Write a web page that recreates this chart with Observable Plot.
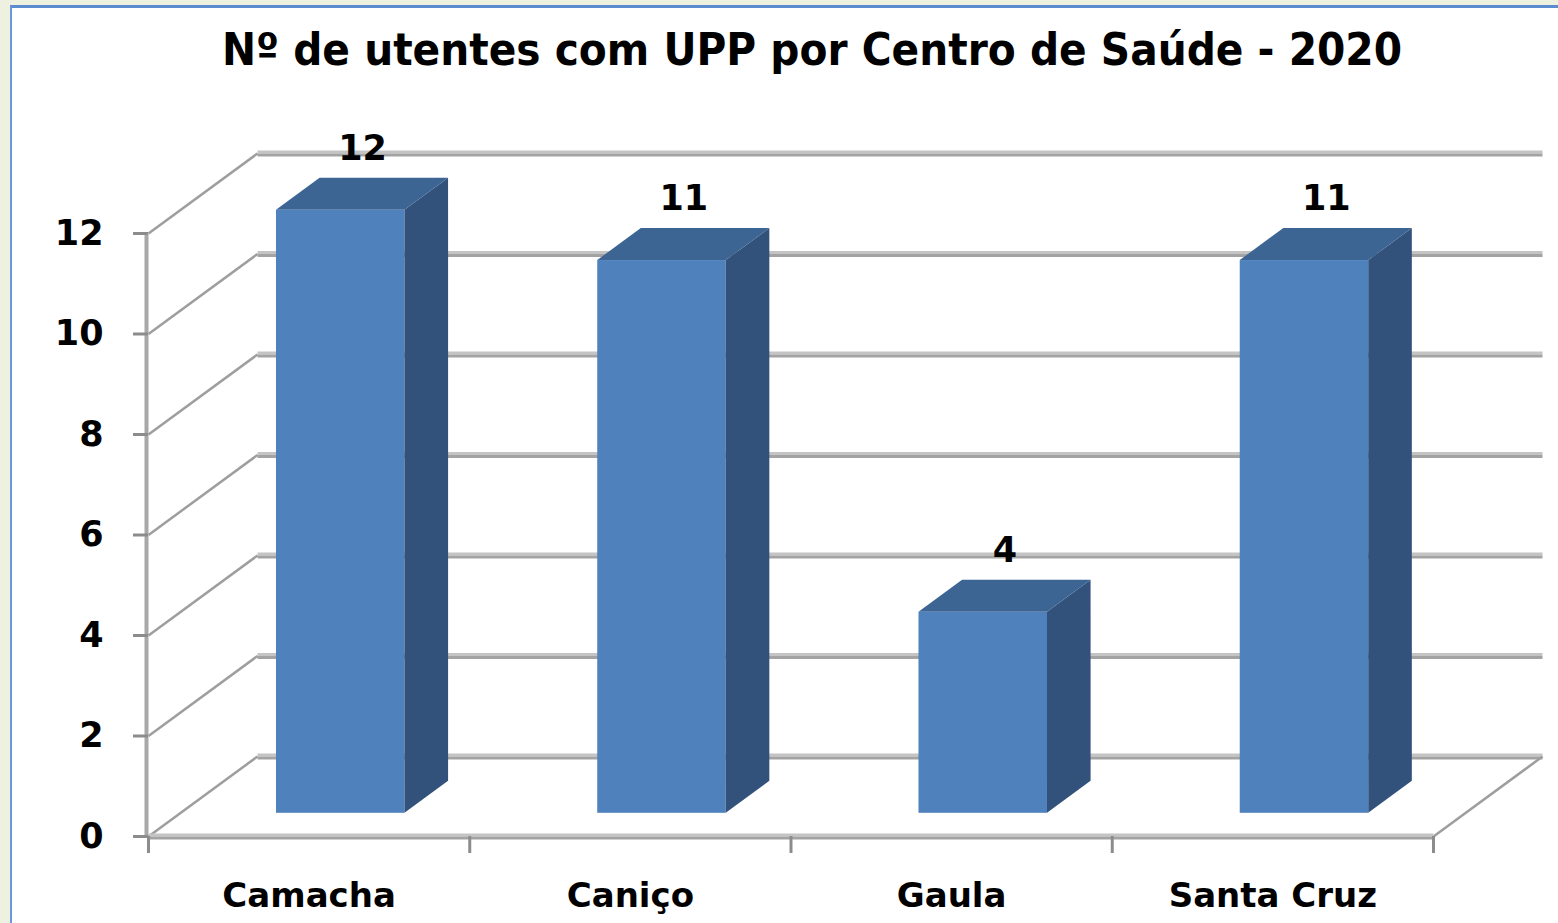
<!DOCTYPE html>
<html>
<head>
<meta charset="utf-8">
<script src="https://cdn.jsdelivr.net/npm/d3@7"></script>
<script src="https://cdn.jsdelivr.net/npm/@observablehq/plot@0.6"></script>
<style>
  html, body { margin: 0; padding: 0; width: 1558px; height: 923px; overflow: hidden; background: #EEF1DF; }
  #frame { position: absolute; left: 10px; top: 5px; width: 1600px; height: 1000px; background: #fff;
           border-left: 2px solid #6B98D6; border-top: 3px solid #5D8BD0; }
  #chart { position: absolute; left: 0; top: 0; }
  #title { position: absolute; top: 23px; left: 0; white-space: nowrap;
           font-family: "DejaVu Sans", Verdana, sans-serif; font-weight: bold; font-size: 45px; color: #000;
           transform-origin: 0 0; }
</style>
</head>
<body>
<div id="frame"></div>
<div id="chart"></div>
<div id="title"><span id="titleText">Nº de utentes com UPP por Centro de Saúde - 2020</span></div>
<script>
// ---- data ----
const categories = ["Camacha", "Caniço", "Gaula", "Santa Cruz"];
const values = [12, 11, 4, 11];
const yTicks = [0, 2, 4, 6, 8, 10, 12];
const categoryBounds = [0, 1, 2, 3, 4];

// ---- 3D geometry (in data units) ----
const pxX = (1433 - 148) / 4;       // px per category
const pxY = (836 - 233) / 12;       // px per value unit
const DX = 109 / pxX;               // full depth shift, x
const DY = 80 / pxY;                // full depth shift, y
const f1 = 0.29, f2 = 0.69, fm = (f1 + f2) / 2;
const barW = 0.4;

const bars = categories.map((c, i) => ({cat: c, i, v: values[i],
  xl: i + 0.5 - barW / 2, xr: i + 0.5 + barW / 2}));

// top faces as areaX rows
const topRows = bars.flatMap(b => [
  {id: b.cat, y: b.v + f1 * DY, x1: b.xl + f1 * DX, x2: b.xr + f1 * DX},
  {id: b.cat, y: b.v + f2 * DY, x1: b.xl + f2 * DX, x2: b.xr + f2 * DX}
]);
// side faces as areaY rows
const sideRows = bars.flatMap(b => [
  {id: b.cat, x: b.xr + f1 * DX, y1: f1 * DY, y2: b.v + f1 * DY},
  {id: b.cat, x: b.xr + f2 * DX, y1: f2 * DY, y2: b.v + f2 * DY}
]);

const font = '"DejaVu Sans", Verdana, sans-serif';
const gridLight = "#C4C4C4", gridDark = "#A3A3A3";

const chart = Plot.plot({
  width: 1558,
  height: 923,
  marginLeft: 148,
  marginRight: 125,
  marginBottom: 87,
  marginTop: 836 - 14 * pxY,
  x: {domain: [0, 4], axis: null},
  y: {domain: [0, 14], axis: null},
  style: {background: "transparent", overflow: "visible", fontFamily: font, color: "#000"},
  marks: [
    // back wall gridlines (two-tone)
    Plot.link(yTicks, {x1: DX, x2: 4 + DX, y1: d => d + DY, y2: d => d + DY, stroke: gridLight, strokeWidth: 3, dy: -1.5}),
    Plot.link(yTicks, {x1: DX, x2: 4 + DX, y1: d => d + DY, y2: d => d + DY, stroke: gridDark, strokeWidth: 3, dy: 1.5}),
    // left wall diagonals
    Plot.link(yTicks, {x1: 0, x2: DX, y1: d => d, y2: d => d + DY, stroke: "#9E9E9E", strokeWidth: 2.5}),
    // floor right diagonal
    Plot.link([0], {x1: 4, x2: 4 + DX, y1: 0, y2: DY, stroke: "#9E9E9E", strokeWidth: 2.5}),
    // floor front edge
    Plot.link([0], {x1: 0, x2: 4, y1: 0, y2: 0, stroke: gridLight, strokeWidth: 3, dy: -1.5}),
    Plot.link([0], {x1: 0, x2: 4, y1: 0, y2: 0, stroke: gridDark, strokeWidth: 3, dy: 1.5}),
    // front vertical axis line
    Plot.link([0], {x1: 0, x2: 0, y1: 0, y2: 12, stroke: "#A8A8A8", strokeWidth: 4, dx: -2}),
    // bars: front faces
    Plot.rect(bars, {x1: d => d.xl + f1 * DX, x2: d => d.xr + f1 * DX, y1: f1 * DY, y2: d => d.v + f1 * DY, fill: "#4F81BD"}),
    // side faces
    Plot.areaY(sideRows, {x: "x", y1: "y1", y2: "y2", z: "id", fill: "#32527B", curve: "linear"}),
    // top faces
    Plot.areaX(topRows, {y: "y", x1: "x1", x2: "x2", z: "id", fill: "#3D6594", curve: "linear"}),
    // value labels
    Plot.text(bars, {x: d => d.i + 0.5 + fm * DX, y: d => d.v + fm * DY, text: d => String(d.v), dy: -46,
      fontSize: 35, fontWeight: "bold", fill: "#000"}),
    // y axis
    Plot.axisY(yTicks, {tickSize: 15, tickPadding: 30, stroke: "#8C8C8C", strokeWidth: 3, fill: "#000",
      fontSize: 35, fontWeight: "bold", tickFormat: d => String(d)}),
    // x ticks
    Plot.axisX(categoryBounds, {tickSize: 17, tickFormat: () => "", stroke: "#8C8C8C", strokeWidth: 3}),
    // category labels
    Plot.text(categories, {x: (d, i) => i + 0.5, y: 0, dy: 60, text: d => d, fontSize: 34, fontWeight: "bold", fill: "#000"})
  ]
});
document.getElementById("chart").appendChild(chart);

// fit title to reference width and center
const title = document.getElementById("title");
const tw = document.getElementById("titleText").getBoundingClientRect().width;
const target = 1180;
const s = target / tw;
title.style.transform = `scaleX(${s})`;
title.style.left = (812 - target / 2) + "px";
</script>
</body>
</html>
